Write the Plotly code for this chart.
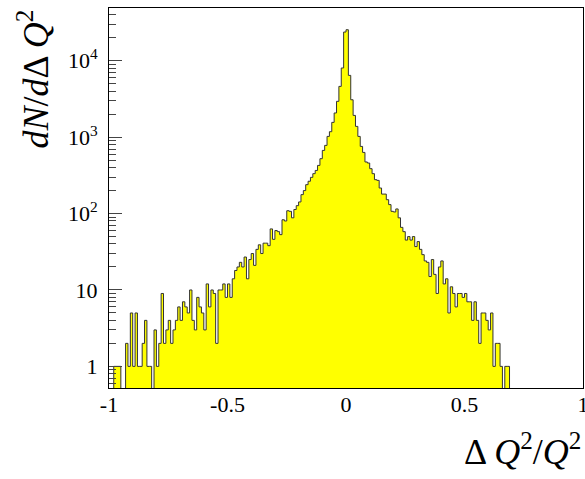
import math
import plotly.graph_objects as go

# ---- data ----
bin_low = -1.0
bin_width = 0.01
counts = [
    0, 0, 1, 1, 1, 0, 0, 2, 1, 5,
    1, 5, 1, 1, 2, 4, 1, 1, 0, 3,
    1, 2, 9, 2, 3, 4, 2, 3, 4, 6,
    4, 7, 6, 5, 10, 4, 3, 8, 6, 5,
    3, 12, 6, 10, 9, 2, 10, 10, 12, 8,
    12, 8, 14, 18, 20, 23, 20, 27, 14, 25,
    30, 21, 34, 39, 30, 41, 41, 38, 63, 46,
    60, 58, 53, 83, 80, 109, 107, 88, 113, 127,
    142, 177, 200, 239, 265, 298, 333, 367, 427, 523,
    671, 781, 1024, 1180, 1563, 2075, 2946, 4625, 8050, 23800,
    25500, 6440, 3090, 1928, 1385, 1024, 757, 632, 474, 459,
    387, 333, 278, 272, 216, 180, 180, 152, 131, 107,
    105, 115, 88, 66, 58, 45, 50, 45, 50, 37,
    43, 34, 29, 24, 23, 15, 25, 16, 9, 20,
    24, 12, 14, 5, 11, 9, 6, 9, 9, 8,
    9, 7, 7, 4, 7, 4, 2, 5, 5, 4,
    3, 5, 1, 2, 2, 1, 0, 1, 1, 0,
    0, 0, 0, 0, 0, 0, 0, 0, 0, 0,
    0, 0, 0, 0, 0, 0, 0, 0, 0, 0,
    0, 0, 0, 0, 0, 0, 0, 0, 0, 0,
]
x_tickvals = [-1, -0.5, 0, 0.5, 1]
x_ticktext = ["-1", "-0.5", "0", "0.5", "1"]
y_tickvals = [1, 10, 100, 1000, 10000]
y_ticktext = ["1", "10", "10<sup>2</sup>", "10<sup>3</sup>", "10<sup>4</sup>"]
x_title = "Δ <i>Q</i><sup>2</sup>/<i>Q</i><sup>2</sup>"
y_title = "<i>dN</i>/<i>d</i>Δ <i>Q</i><sup>2</sup>"

# ---- build step outline ----
edges = [round(bin_low + i * bin_width, 4) for i in range(len(counts) + 1)]
floor_val = 0.05  # empty bins drop below the axis minimum (log scale)
ys = [c if c > 0 else floor_val for c in counts]
ys_step = ys + [ys[-1]]

y_min, y_max = 0.521, 49100.0
y_range = [math.log10(y_min), math.log10(y_max)]
minor_vals = [m * 10 ** d for d in range(-1, 5) for m in range(2, 10)
              if y_min < m * 10 ** d < y_max]

FONT = "'Liberation Serif', 'Times New Roman', serif"

fig = go.Figure()
fig.add_trace(go.Scatter(
    x=edges, y=ys_step, mode="lines",
    line=dict(shape="hv", color="#333333", width=1),
    fill="tozeroy", fillcolor="#ffff00",
    hoverinfo="skip", showlegend=False,
))

W, H = 585, 479
ml, mr, mt, mb = 109, 2, 8, 91
pw, ph = W - ml - mr, H - mt - mb

fig.update_layout(
    width=W, height=H,
    margin=dict(l=ml, r=mr, t=mt, b=mb, pad=0, autoexpand=False),
    paper_bgcolor="white", plot_bgcolor="white",
    font=dict(family=FONT, color="black"),
    xaxis=dict(
        range=[-1, 1], tickvals=x_tickvals, ticktext=x_ticktext,
        ticks="", showgrid=False, zeroline=False, automargin=False,
        showline=True, mirror=True, linecolor="black", linewidth=1,
        tickfont=dict(family=FONT, size=22, color="black"),
        ticklabelstandoff=-3, ticklabeloverflow="allow",
    ),
    yaxis=dict(
        type="log", range=y_range, tickvals=y_tickvals, ticktext=y_ticktext,
        ticks="inside", ticklen=13, tickcolor="#444444", tickwidth=1,
        minor=dict(tickvals=minor_vals, ticks="inside", ticklen=7,
                   tickcolor="#444444", tickwidth=1),
        showgrid=False, zeroline=False, automargin=False,
        showline=True, mirror=True, linecolor="black", linewidth=1,
        tickfont=dict(family=FONT, size=22, color="black"),
        ticklabelstandoff=6, ticklabeloverflow="allow",
    ),
    annotations=[
        dict(text=x_title, xref="paper", yref="paper",
             x=1, y=-(449 - (H - mb)) / ph, xanchor="right", yanchor="middle",
             showarrow=False, font=dict(family=FONT, size=36, color="black")),
        dict(text=y_title, xref="paper", yref="paper", textangle=-90,
             x=(33 - ml) / pw, y=1, xanchor="center", yanchor="top",
             showarrow=False, font=dict(family=FONT, size=36, color="black")),
    ],
)

fig.write_html("out.html")
